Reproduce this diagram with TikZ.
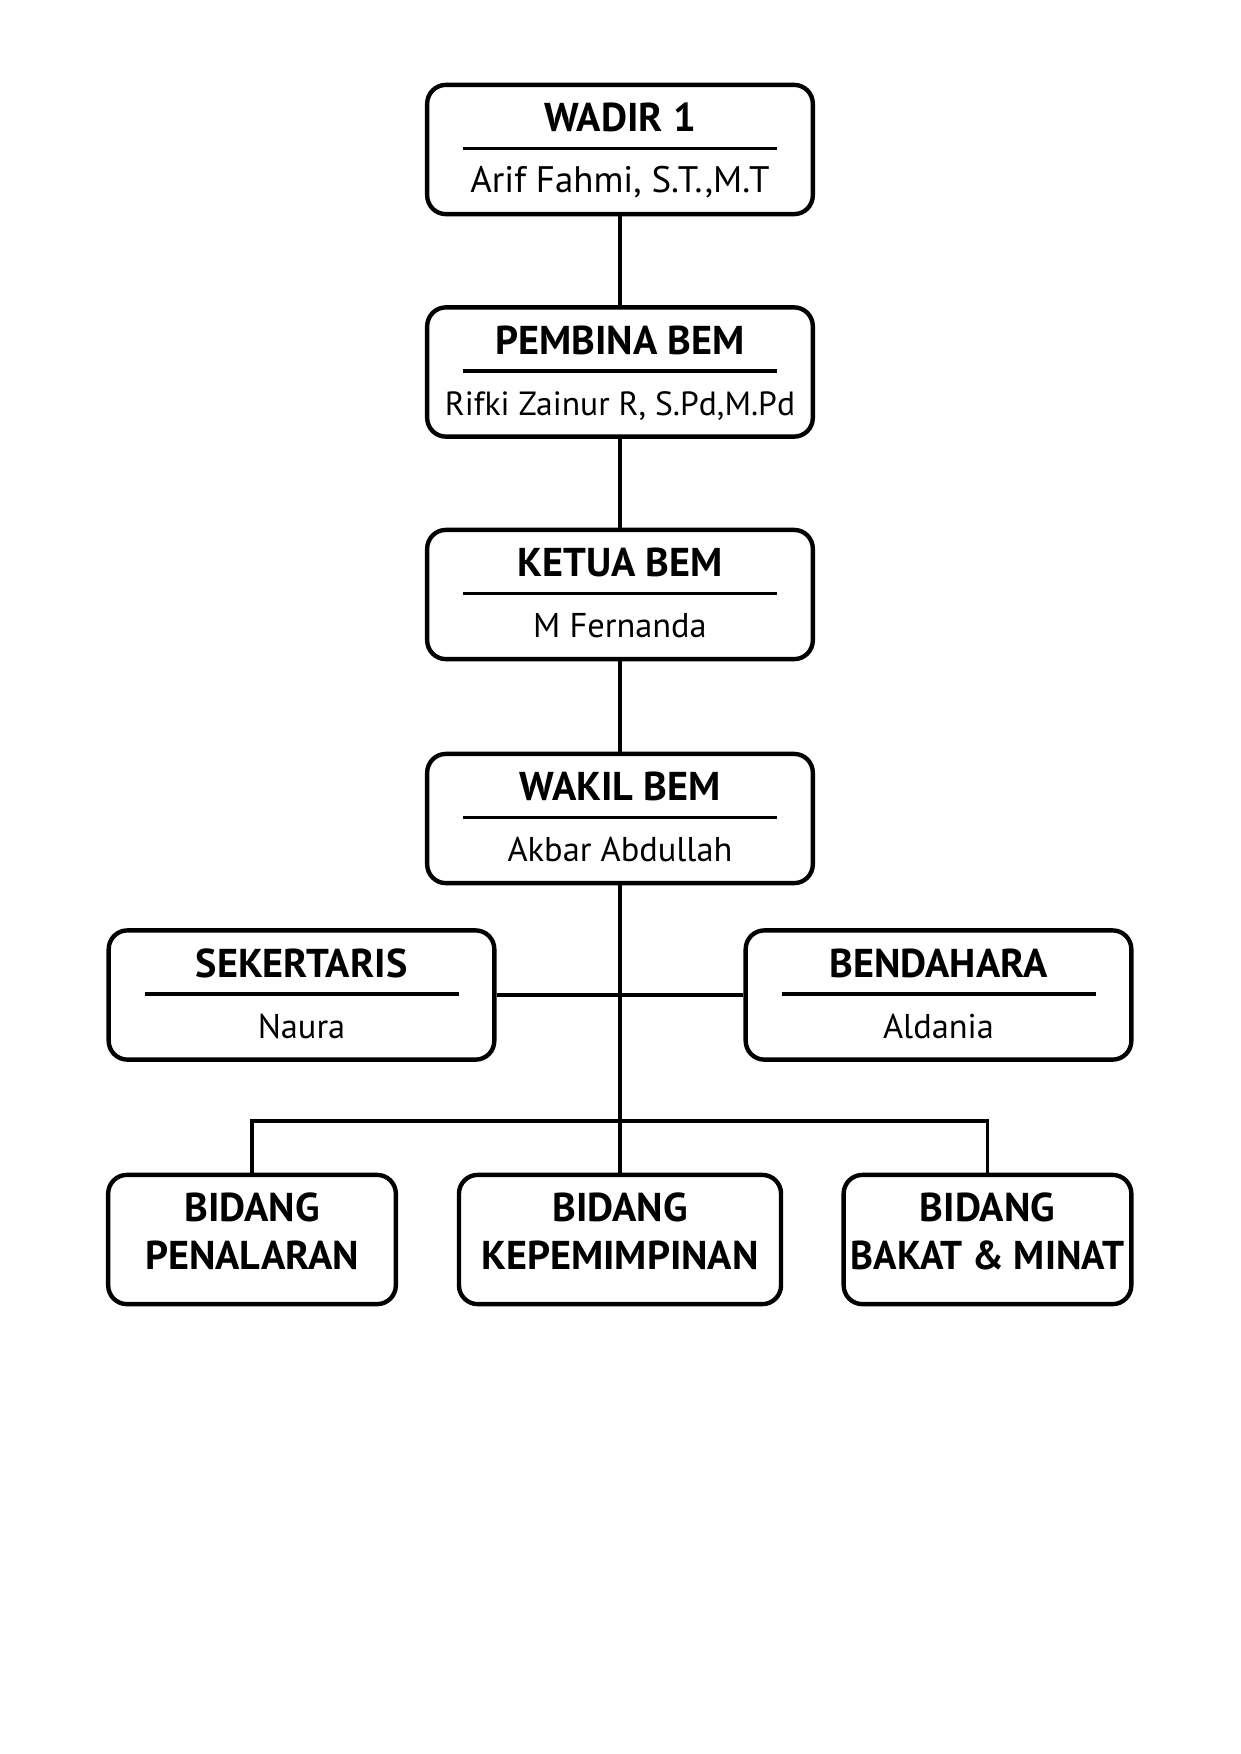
\documentclass[tikz,border=0pt]{standalone}
\usepackage{fontspec}
\setmainfont{PT Sans}
\begin{document}
\begin{tikzpicture}[x=0.4797pt,y=-0.4797pt,
  box/.style={draw, line width=2.1pt, rounded corners=9pt, minimum width=185pt, minimum height=62pt, inner sep=0pt},
  smallbox/.style={box, minimum width=138pt},
  midbox/.style={box, minimum width=154.5pt},
  ttl/.style={font=\fontsize{19.3}{22}\selectfont\bfseries, anchor=base, inner sep=0pt},
  nm/.style={anchor=base, inner sep=0pt},
  rule/.style={line width=1.7pt},
  link/.style={line width=1.7pt}]
\useasboundingbox (0,0) rectangle (1241,1754);
% boxes
\node[box] (wadir) at (620,149.5) {};
\node[box] (pembina) at (620,372) {};
\node[box] (ketua) at (620,594.5) {};
\node[box] (wakil) at (620,818.5) {};
\node[box] (sek) at (301.5,995) {};
\node[box] (bend) at (938.5,995) {};
\node[smallbox] (pen) at (252,1239.5) {};
\node[midbox] (kep) at (620,1239.5) {};
\node[smallbox] (bak) at (987.5,1239.5) {};
% titles, rules, names
\foreach \n/\t/\s/\fs in {wadir/WADIR 1/{Arif Fahmi, S.T.,M.T}/17.7, pembina/PEMBINA BEM/{Rifki Zainur R, S.Pd,M.Pd}/16.1, ketua/KETUA BEM/M Fernanda/16.5, wakil/WAKIL BEM/Akbar Abdullah/16.5, sek/SEKERTARIS/Naura/16.5, bend/BENDAHARA/Aldania/16.5}{
  \node[ttl] (\n-t) at ([yshift=-49*0.4797pt]\n.north) {\t};
  \draw[rule] ([xshift=-157*0.4797pt,yshift=-66*0.4797pt]\n.north) -- ([xshift=157*0.4797pt,yshift=-66*0.4797pt]\n.north);
  \node[nm, font=\fontsize{\fs}{18}\selectfont] (\n-n) at ([yshift=-110*0.4797pt]\n.north) {\s};
}
\foreach \n/\a/\b in {pen/BIDANG/PENALARAN, kep/BIDANG/KEPEMIMPINAN, bak/BIDANG/{\scalebox{0.965}[1]{BAKAT \& MINAT}}}{
  \node[ttl] (\n-a) at ([yshift=-49*0.4797pt]\n.north) {\a};
  \node[ttl] (\n-b) at ([yshift=-97*0.4797pt]\n.north) {\b};
}
% connectors
\draw[link] (wadir) -- (pembina);
\draw[link] (pembina) -- (ketua);
\draw[link] (ketua) -- (wakil);
\draw[link] (wakil) -- (kep);
\draw[link] (sek) -- (bend);
\coordinate (barL) at (252,1121);
\draw[link] (pen) -- (barL) -| (bak);
\end{tikzpicture}
\end{document}
